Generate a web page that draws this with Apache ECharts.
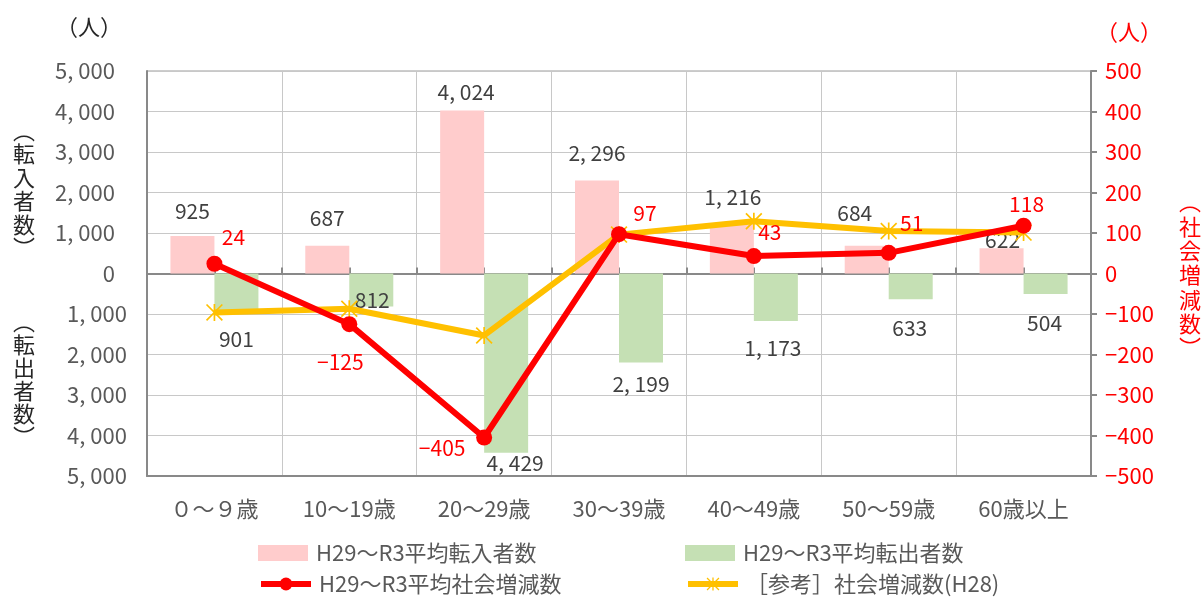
<!DOCTYPE html>
<html><head><meta charset="utf-8">
<script src="https://cdn.jsdelivr.net/npm/echarts@6/dist/echarts.min.js"></script>
<style>html,body{margin:0;padding:0;background:#fff}#c{width:1203px;height:598px}</style>
</head><body><div id="c"></div>
<script>
const categories = ['０～９歳', '10～19歳', '20～29歳', '30～39歳', '40～49歳', '50～59歳', '60歳以上'];
const inflow = [925, 687, 4024, 2296, 1216, 684, 622];
const outflow = [901, 812, 4429, 2199, 1173, 633, 504];
const socialChange = [24, -125, -405, 97, 43, 51, 118];
const socialChangeH28 = [-96, -87, -153, 96, 129, 105, 101];
const seriesNames = ['H29～R3平均転入者数', 'H29～R3平均転出者数', 'H29～R3平均社会増減数', '［参考］社会増減数(H28)'];

// label placement tweaks (style, not data)
const inflowLabelOffsets = [[0,-10],[0,-12],[4,-3],[0,-12],[1,-12],[-12,-17],[1,7]];
const outflowLabelOffsets = [[0,14],[1,-22],[9,-5],[0,6],[-3,12],[-1,13],[-1,14]];
const changeLabelOffsets = [[19,-27],[-9,38],[-42,10],[26,-21],[16,-24],[23,-30],[3,-22]];

const FONT = '"Noto Sans CJK JP", sans-serif';
const fmt = v => { const a = Math.abs(v); return a >= 1000 ? Math.floor(a/1000) + ', ' + String(a%1000).padStart(3,'0') : String(a); };
const asterisk = 'path://M9,0L11,0L11,20L9,20Z M1.4,0L20,18.6L18.6,20L0,1.4Z M18.6,0L20,1.4L1.4,20L0,18.6Z';

function legendAt(name, left, top, icon) {
  const item = icon ? {name: name, icon: icon} : {name: name};
  return {left: left, top: top, itemWidth: 50, itemHeight: 16, padding: 0,
    lineStyle: {width: 6},
    textStyle: {fontSize: 22, color: '#595959', fontFamily: FONT, padding: [0,0,0,3]},
    data: [item]};
}

const chart = echarts.init(document.getElementById('c'), null, {renderer: 'canvas'});
chart.setOption({
  animation: false,
  textStyle: {fontFamily: FONT},
  grid: {left: 147, right: 112, top: 71, bottom: 122, show: true, borderColor: '#9a9a9a', borderWidth: 1, backgroundColor: 'transparent'},
  legend: [
    legendAt(seriesNames[0], 258, 542, 'rect'),
    legendAt(seriesNames[2], 258, 573),
    legendAt(seriesNames[1], 685, 542, 'rect'),
    legendAt(seriesNames[3], 685, 573)
  ],
  xAxis: [
    {type: 'category', data: categories, position: 'bottom',
     axisLine: {onZero: false, lineStyle: {color: '#898989', width: 2}},
     axisTick: {show: false},
     axisLabel: {fontSize: 22, color: '#595959', margin: 22, fontFamily: FONT},
     splitLine: {show: true, lineStyle: {color: '#c8c8c8', width: 1}}},
    {type: 'category', data: categories, position: 'bottom',
     axisLine: {onZero: true, onZeroAxisIndex: 0, lineStyle: {color: '#898989', width: 2}},
     axisTick: {show: true, inside: true, length: 6, lineStyle: {color: '#898989', width: 2}},
     axisLabel: {show: false}, splitLine: {show: false}},
    {type: 'category', data: categories, position: 'bottom',
     axisLine: {show: false, onZero: true, onZeroAxisIndex: 0},
     axisTick: {show: true, inside: true, alignWithLabel: true, length: 6, lineStyle: {color: '#898989', width: 2}},
     axisLabel: {show: false}, splitLine: {show: false}}
  ],
  yAxis: [
    {type: 'value', min: -5000, max: 5000, interval: 1000,
     axisLine: {show: true, lineStyle: {color: '#898989', width: 2}},
     axisTick: {show: false},
     splitLine: {show: true, lineStyle: {color: '#c8c8c8', width: 1}},
     axisLabel: {margin: 20, fontSize: 22, color: '#595959', fontFamily: FONT,
       formatter: v => v >= 0 ? '{p|' + fmt(v) + '}' : '{n|' + fmt(v) + '}',
       rich: {p: {fontSize: 22, color: '#595959', fontFamily: FONT, padding: [0,12,0,0]},
              n: {fontSize: 22, color: '#595959', fontFamily: FONT}}}},
    {type: 'value', min: -500, max: 500, interval: 100, position: 'right',
     axisLine: {show: true, lineStyle: {color: '#898989', width: 2}},
     axisTick: {show: true, length: 6, lineStyle: {color: '#898989', width: 2}},
     splitLine: {show: false},
     axisLabel: {margin: 14, fontSize: 22, color: '#ff0000', fontFamily: FONT,
       formatter: v => v < 0 ? '−' + Math.abs(v) : String(v)}}
  ],
  series: [
    {name: seriesNames[0], type: 'bar', xAxisIndex: 0, yAxisIndex: 0, barWidth: 44, barGap: '0%',
     itemStyle: {color: '#ffcccc'},
     label: {show: true, position: 'top', distance: 5, fontSize: 21, color: '#404040', fontFamily: FONT, formatter: p => fmt(p.value)},
     data: inflow.map((v, i) => ({value: v, label: {offset: inflowLabelOffsets[i]}})), z: 2},
    {name: seriesNames[1], type: 'bar', xAxisIndex: 0, yAxisIndex: 0, barWidth: 44, barGap: '0%',
     itemStyle: {color: '#c5e0b4'},
     label: {show: true, position: 'bottom', distance: 5, fontSize: 21, color: '#404040', fontFamily: FONT, formatter: p => fmt(p.value)},
     data: outflow.map((v, i) => ({value: -v, label: {offset: outflowLabelOffsets[i]}})), z: 2},
    {name: seriesNames[3], type: 'line', xAxisIndex: 0, yAxisIndex: 1,
     lineStyle: {color: '#ffc000', width: 6}, itemStyle: {color: '#ffc000'},
     symbol: asterisk, symbolSize: 17, showAllSymbol: true,
     data: socialChangeH28, z: 4},
    {name: seriesNames[2], type: 'line', xAxisIndex: 0, yAxisIndex: 1,
     lineStyle: {color: '#ff0000', width: 6}, itemStyle: {color: '#ff0000'},
     symbol: 'circle', symbolSize: 16, showAllSymbol: true,
     label: {show: true, position: 'inside', fontSize: 21, color: '#ff0000', fontFamily: FONT,
       formatter: p => p.value < 0 ? '−' + Math.abs(p.value) : String(p.value)},
     data: socialChange.map((v, i) => ({value: v, label: {offset: changeLabelOffsets[i]}})), z: 5}
  ],
  graphic: [
    {type: 'text', style: {text: '（人）', x: 89, y: 27, textAlign: 'center', textVerticalAlign: 'middle', fill: '#262626', font: '22px ' + FONT}},
    {type: 'text', style: {text: '（人）', x: 1129, y: 32, textAlign: 'center', textVerticalAlign: 'middle', fill: '#ff0000', font: '22px ' + FONT}},
    {type: 'text', style: {text: '︵\n転\n入\n者\n数\n︶', x: 24, y: 189, textAlign: 'center', textVerticalAlign: 'middle', lineHeight: 23.5, fill: '#262626', font: '22px ' + FONT}},
    {type: 'text', style: {text: '︵\n転\n出\n者\n数\n︶', x: 24, y: 379, textAlign: 'center', textVerticalAlign: 'middle', lineHeight: 23, fill: '#262626', font: '22px ' + FONT}},
    {type: 'text', style: {text: '︵\n社\n会\n増\n減\n数\n︶', x: 1190, y: 275, textAlign: 'center', textVerticalAlign: 'middle', lineHeight: 24.3, fill: '#ff0000', font: '22px ' + FONT}}
  ]
});
</script>
</body></html>
